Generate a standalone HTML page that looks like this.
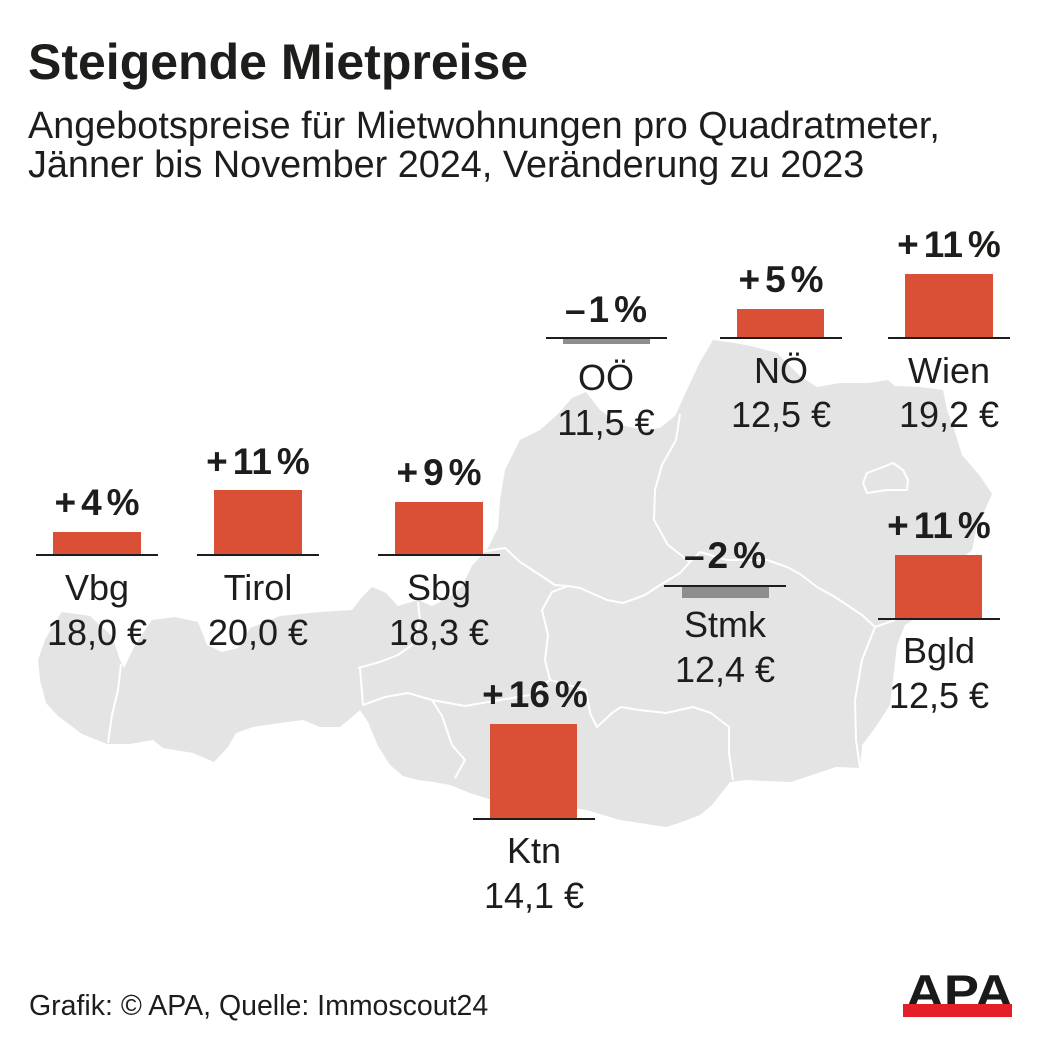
<!DOCTYPE html>
<html><head><meta charset="utf-8"><style>
html,body{margin:0;padding:0;background:#fff;}
svg{display:block;}
text{font-family:"Liberation Sans",Arial,sans-serif;fill:#1d1d1b;}
.p{font-weight:bold;font-size:37px;}
.n{font-size:36px;}
</style></head><body>
<svg width="1041" height="1040" viewBox="0 0 1041 1040" xmlns="http://www.w3.org/2000/svg">
<rect width="1041" height="1040" fill="#fff"/>
<!-- map -->
<path fill="#e4e4e4" d="M62,612 L90,616 L112,636 L120,660 L124,668 L135,645 L152,620 L175,617 L198,622 L207,645 L222,652 L238,648 L250,628 L280,616 L320,612 L352,610 L362,597 L372,587 L386,593 L398,606 L418,600 L432,606 L448,598 L462,586 L472,566 L488,548 L498,528 L500,500 L505,470 L520,440 L540,430 L558,414 L572,398 L586,392 L600,410 L620,425 L645,430 L660,428 L675,416 L686,392 L700,362 L713,340 L735,343 L755,347 L777,353 L800,376 L817,387 L840,383 L868,383 L888,380 L895,386 L920,387 L943,390 L947,410 L955,432 L962,455 L980,476 L992,494 L984,512 L976,530 L972,550 L960,560 L945,590 L925,612 L905,625 L897,645 L893,680 L890,705 L875,728 L862,745 L860,768 L836,767 L812,775 L791,782 L766,781 L746,780 L730,782 L712,805 L700,815 L679,823 L666,827 L640,823 L620,820 L600,814 L586,810 L560,806 L530,803 L505,801 L492,800 L470,793 L450,785 L434,782 L418,780 L403,776 L390,765 L378,746 L368,722 L360,710 L352,717 L340,727 L320,727 L303,720 L280,723 L253,727 L236,733 L228,747 L214,762 L193,753 L163,748 L153,740 L130,744 L107,744 L82,734 L58,716 L46,703 L40,680 L38,660 L45,640 L55,622 Z"/>
<g fill="none" stroke="#fff" stroke-width="2" stroke-linejoin="round">
<path d="M121,664 L118,690 L112,715 L108,743"/>
<path d="M358,668 L380,662 L398,655 L412,645 L420,620 L418,602"/>
<path d="M360,668 L363,705 L385,697 L408,693 L432,700"/>
<path d="M432,700 L442,716 L452,745 L465,760 L455,778"/>
<path d="M432,700 L465,706 L500,700 L530,695 L550,680"/>
<path d="M550,680 L545,660 L548,635 L542,610 L552,592 L568,586"/>
<path d="M480,552 L505,548 L520,562 L540,575 L555,585 L568,586"/>
<path d="M568,586 L580,588 L607,600 L623,603 L645,595 L657,587 L680,573 L690,562"/>
<path d="M680,414 L676,440 L662,465 L655,490 L654,520 L668,545 L690,562"/>
<path d="M690,562 L700,552 L727,560 L767,560 L787,567 L800,574 L817,587 L835,597 L850,607 L862,615 L875,627"/>
<path d="M875,627 L862,660 L855,700 L856,740 L860,768"/>
<path d="M875,627 L895,620"/>
<path d="M550,680 L568,685 L586,690 L590,713 L597,727 L612,713 L621,707 L639,710 L666,713 L693,707 L711,713 L729,727 L729,753 L733,780"/>
<path d="M863,483 L867,473 L883,467 L893,463 L903,470 L908,480 L907,490 L887,490 L867,493 Z"/>
</g>
<!-- bars -->
<g fill="#d95036">
<rect x="53" y="532" width="88" height="23"/>
<rect x="214" y="490" width="88" height="65"/>
<rect x="395" y="502" width="88" height="53"/>
<rect x="737" y="309" width="87" height="29"/>
<rect x="905" y="274" width="88" height="64"/>
<rect x="895" y="555" width="87" height="64"/>
<rect x="490" y="724" width="87" height="95"/>
</g>
<g fill="#8e8e8e">
<rect x="563" y="338" width="87" height="6"/>
<rect x="682" y="586" width="87" height="12"/>
</g>
<g fill="#1d1d1b">
<rect x="36" y="554" width="122" height="2"/>
<rect x="197" y="554" width="122" height="2"/>
<rect x="378" y="554" width="122" height="2"/>
<rect x="546" y="337" width="121" height="2"/>
<rect x="720" y="337" width="122" height="2"/>
<rect x="888" y="337" width="122" height="2"/>
<rect x="664" y="585" width="122" height="2"/>
<rect x="878" y="618" width="122" height="2"/>
<rect x="473" y="818" width="122" height="2"/>
</g>
<!-- title -->
<text x="28" y="79" font-size="50" font-weight="bold">Steigende Mietpreise</text>
<text x="28" y="138" font-size="37.8">Angebotspreise für Mietwohnungen pro Quadratmeter,</text>
<text x="28" y="177" font-size="37.8">Jänner bis November 2024, Veränderung zu 2023</text>
<!-- percentages -->
<g text-anchor="middle">
<text class="p" x="97" y="515">+<tspan dx="5">4</tspan><tspan dx="5">%</tspan></text>
<text class="p" x="258" y="474">+<tspan dx="5">11</tspan><tspan dx="5">%</tspan></text>
<text class="p" x="439" y="485">+<tspan dx="5">9</tspan><tspan dx="5">%</tspan></text>
<text class="p" x="606" y="322">–<tspan dx="3">1</tspan><tspan dx="5">%</tspan></text>
<text class="p" x="781" y="292">+<tspan dx="5">5</tspan><tspan dx="5">%</tspan></text>
<text class="p" x="949" y="257">+<tspan dx="5">11</tspan><tspan dx="5">%</tspan></text>
<text class="p" x="725" y="568">–<tspan dx="3">2</tspan><tspan dx="5">%</tspan></text>
<text class="p" x="939" y="538">+<tspan dx="5">11</tspan><tspan dx="5">%</tspan></text>
<text class="p" x="535" y="707">+<tspan dx="5">16</tspan><tspan dx="5">%</tspan></text>
<!-- names -->
<text class="n" x="97" y="600">Vbg</text>
<text class="n" x="97" y="645">18,0 €</text>
<text class="n" x="258" y="600">Tirol</text>
<text class="n" x="258" y="645">20,0 €</text>
<text class="n" x="439" y="600">Sbg</text>
<text class="n" x="439" y="645">18,3 €</text>
<text class="n" x="606" y="390">OÖ</text>
<text class="n" x="606" y="435">11,5 €</text>
<text class="n" x="781" y="383">NÖ</text>
<text class="n" x="781" y="427">12,5 €</text>
<text class="n" x="949" y="383">Wien</text>
<text class="n" x="949" y="427">19,2 €</text>
<text class="n" x="725" y="637">Stmk</text>
<text class="n" x="725" y="682">12,4 €</text>
<text class="n" x="939" y="663">Bgld</text>
<text class="n" x="939" y="708">12,5 €</text>
<text class="n" x="534" y="863">Ktn</text>
<text class="n" x="534" y="908">14,1 €</text>
</g>
<!-- footer -->
<text x="29" y="1015" font-size="28.5">Grafik: © APA, Quelle: Immoscout24</text>
<text x="959.5" y="1008" text-anchor="middle" font-size="47" font-weight="bold" textLength="107" lengthAdjust="spacingAndGlyphs" style="fill:#1a1a1a">APA</text>
<rect x="903" y="1004" width="109" height="13" fill="#e3202a"/>
</svg>
</body></html>
